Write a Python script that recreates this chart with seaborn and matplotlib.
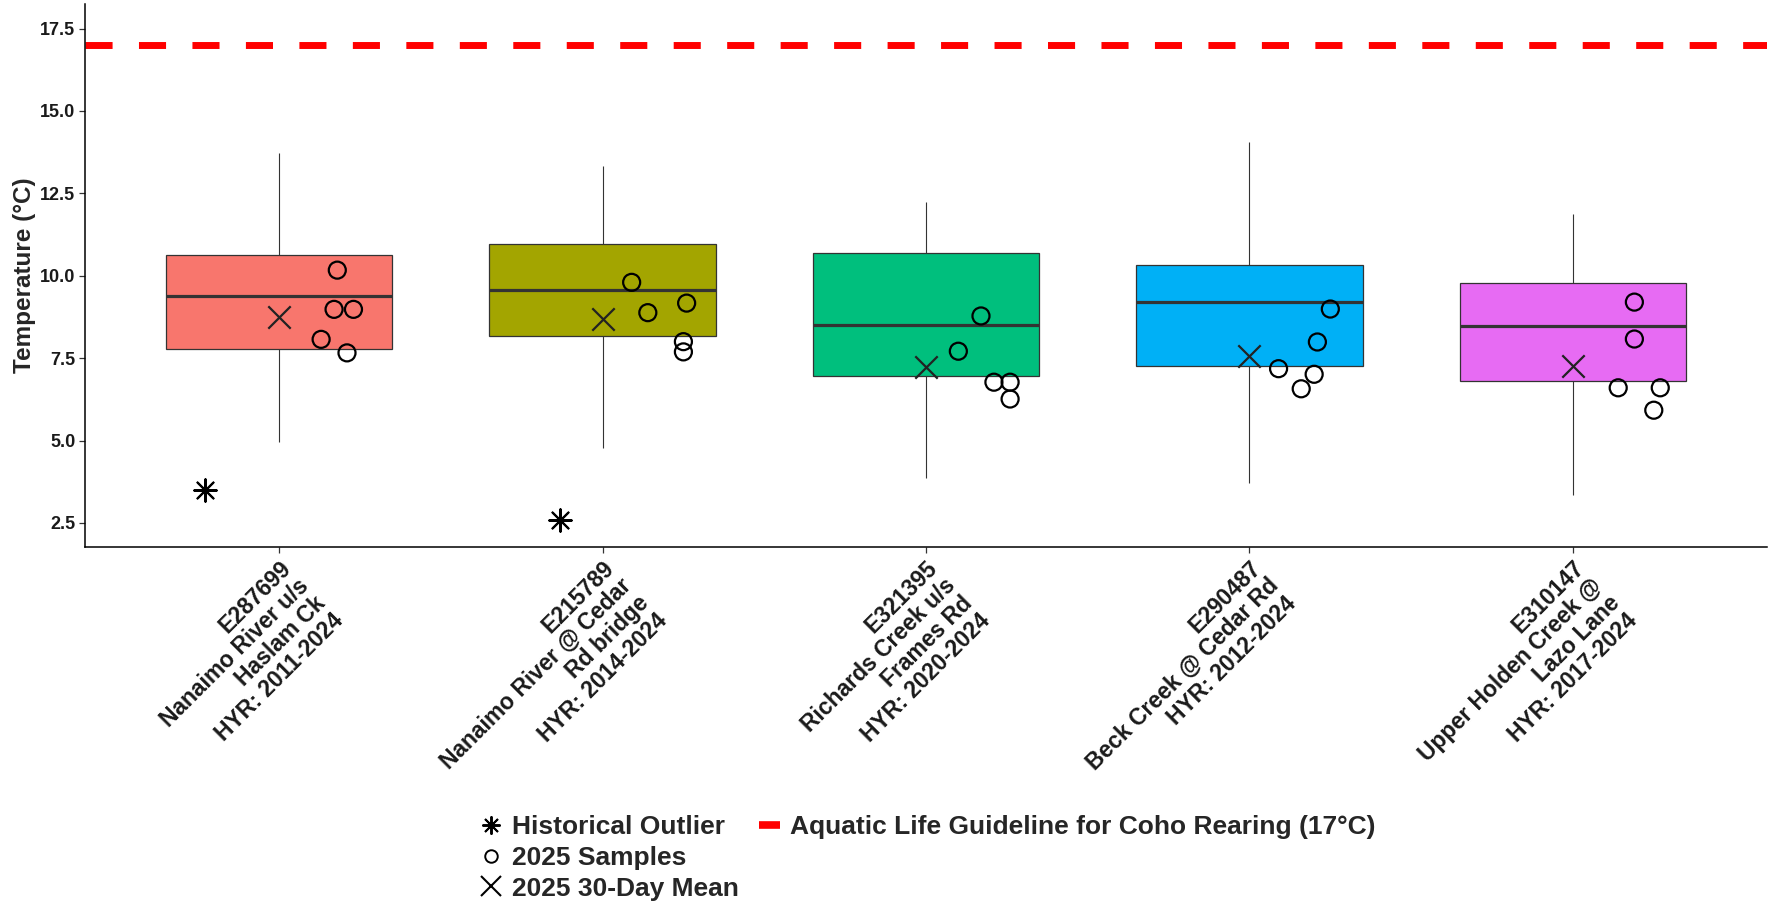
import numpy as np
import pandas as pd
import matplotlib
matplotlib.use("Agg")
import matplotlib.pyplot as plt
import seaborn as sns
from matplotlib.lines import Line2D

# sites along the x axis
site_ids = ["E287699", "E215789", "E321395", "E290487", "E310147"]
site_labels = [
    "E287699\nNanaimo River u/s\nHaslam Ck\nHYR: 2011-2024",
    "E215789\nNanaimo River @ Cedar\nRd bridge\nHYR: 2014-2024",
    "E321395\nRichards Creek u/s\nFrames Rd\nHYR: 2020-2024",
    "E290487\nBeck Creek @ Cedar Rd\nHYR: 2012-2024",
    "E310147\nUpper Holden Creek @\nLazo Lane\nHYR: 2017-2024",
]
box_colors = ["#F8766D", "#A3A500", "#00BF7D", "#00B0F6", "#E76BF3"]

# historical range summary per site
hist_low = [4.95, 4.78, 3.85, 3.70, 3.36]
hist_q1 = [7.77, 8.17, 6.97, 7.25, 6.80]
hist_median = [9.38, 9.58, 8.50, 9.19, 8.48]
hist_q3 = [10.64, 10.97, 10.69, 10.34, 9.77]
hist_high = [13.71, 13.33, 12.24, 14.07, 11.86]

# historical outliers
outlier_pos = [0, 1]
outlier_temp = [3.50, 2.60]
outlier_jitter = [-0.23, -0.13]

# 2025 30-day mean
mean_2025 = [8.75, 8.68, 7.24, 7.55, 7.25]

# 2025 samples, one list per site, with the horizontal jitter seen in the chart
sample_temp = [
    [10.17, 8.98, 8.98, 8.07, 7.66],
    [9.80, 8.88, 9.17, 8.00, 7.69],
    [8.78, 7.71, 6.77, 6.77, 6.26],
    [8.99, 7.99, 7.18, 7.01, 6.57],
    [9.20, 8.08, 6.60, 6.60, 5.92],
]
sample_jitter = [
    [0.18, 0.17, 0.23, 0.13, 0.21],
    [0.09, 0.14, 0.26, 0.25, 0.25],
    [0.17, 0.10, 0.21, 0.26, 0.26],
    [0.25, 0.21, 0.09, 0.20, 0.16],
    [0.19, 0.19, 0.14, 0.27, 0.25],
]

guideline = 17.0

# long tables for seaborn
box_rows = []
for i, s in enumerate(site_ids):
    for v in [hist_low[i], hist_q1[i], hist_median[i], hist_q3[i], hist_high[i]]:
        box_rows.append({"pos": i, "site": s, "temp": v})
box_df = pd.DataFrame(box_rows)

smp_rows = []
for i, s in enumerate(site_ids):
    for v, j in zip(sample_temp[i], sample_jitter[i]):
        smp_rows.append({"x": i + j, "temp": v})
smp_df = pd.DataFrame(smp_rows)

mean_df = pd.DataFrame({"x": range(len(site_ids)), "temp": mean_2025})
out_df = pd.DataFrame({"x": np.array(outlier_pos) + np.array(outlier_jitter),
                       "temp": outlier_temp})

sns.set_theme(style="white")
plt.rcParams["font.family"] = ["Liberation Sans", "DejaVu Sans"]

fig = plt.figure(figsize=(17.78, 9.05), dpi=100)
ax = fig.add_axes([85 / 1778, 1 - 547 / 905, (1767 - 85) / 1778, (547 - 3.5) / 905])

sns.boxplot(data=box_df, x="pos", y="temp", hue="site", hue_order=site_ids,
            palette=box_colors, saturation=1, width=0.7, whis=np.inf,
            native_scale=True, showcaps=False, linecolor="#333333",
            linewidth=0.9, medianprops={"linewidth": 2.3, "color": "#333333"},
            whiskerprops={"linewidth": 0.8}, legend=False, ax=ax)

ax.axhline(guideline, color="red", lw=5.0, ls=(0, (3.9, 3.8)),
           dash_capstyle="butt", zorder=2)

sns.scatterplot(data=smp_df, x="x", y="temp", marker="o", s=150,
                facecolor="none", edgecolor="black", linewidth=1.6,
                zorder=4, legend=False, ax=ax)
sns.scatterplot(data=mean_df, x="x", y="temp", marker="x", s=260,
                color="#222222", linewidth=1.6, zorder=4, legend=False, ax=ax)
sns.scatterplot(data=out_df, x="x", y="temp", marker=(8, 2, 0), s=260,
                color="black", linewidth=1.5, zorder=4, legend=False, ax=ax)

ax.set_xlim(-0.6, 4.6)
ax.set_ylim(1.77, 18.26)
ax.set_yticks([2.5, 5.0, 7.5, 10.0, 12.5, 15.0, 17.5])
ax.set_yticklabels([f"{v:.1f}" for v in [2.5, 5.0, 7.5, 10.0, 12.5, 15.0, 17.5]],
                   fontsize=13, fontweight="bold", color="#1a1a1a")
ax.set_xticks(range(len(site_ids)))
ax.set_xticklabels(site_labels, rotation=45, ha="right", va="top",
                   rotation_mode="anchor", multialignment="right",
                   linespacing=1.1, fontsize=16.5, fontweight="bold", color="#1a1a1a")
ax.set_xlabel("")
ax.set_ylabel("Temperature (°C)", fontsize=17.5, fontweight="bold", va="center")
ax.yaxis.set_label_coords(-0.036, 0.5)
ax.tick_params(axis="both", bottom=True, left=True, length=4, width=0.9,
               color="#333333", pad=3)

for side in ["top", "right"]:
    ax.spines[side].set_visible(False)
for side in ["left", "bottom"]:
    ax.spines[side].set_color("black")
    ax.spines[side].set_linewidth(1.1)

h_out = Line2D([], [], marker=(8, 2, 0), color="black", ls="none",
               markersize=13, markeredgewidth=1.4)
h_smp = Line2D([], [], marker="o", markerfacecolor="none", markeredgecolor="black",
               ls="none", markersize=9, markeredgewidth=1.4)
h_mean = Line2D([], [], marker="x", color="black", ls="none",
                markersize=14, markeredgewidth=1.5)
h_line = Line2D([], [], color="red", lw=5.5, solid_capstyle="butt")
blank = Line2D([], [], ls="none")

fig.legend([h_out, h_smp, h_mean, h_line, blank, blank],
           ["Historical Outlier", "2025 Samples", "2025 30-Day Mean",
            "Aquatic Life Guideline for Coho Rearing (17°C)", "", ""],
           ncol=2, loc="center", bbox_to_anchor=(0.522, 0.052), frameon=False,
           prop={"weight": "bold", "size": 19}, handlelength=0.8,
           handletextpad=0.4, columnspacing=0.75, labelspacing=0.25)

fig.savefig("out.png", dpi=100, facecolor="white")
